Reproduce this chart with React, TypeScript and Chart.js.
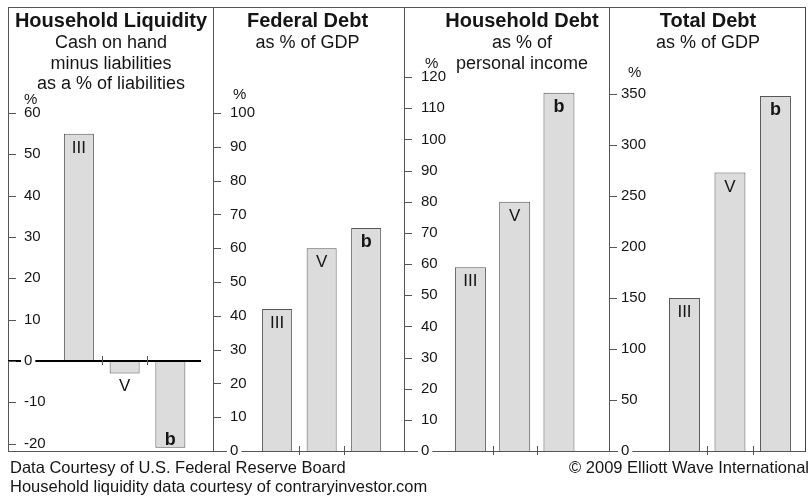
import React, { useEffect, useRef } from 'react';
import { Chart, registerables } from 'chart.js';

Chart.register(...registerables);

// ---------------- data ----------------
const waves = ['III', 'V', 'b'];
const wavePositions = [1, 2, 3];

const liquidityValues = [55, -3, -21];
const federalDebtValues = [42, 60, 66];
const householdDebtValues = [59, 80, 115];
const totalDebtValues = [150, 273, 348];

const liquidityTicks = [-20, -10, 0, 10, 20, 30, 40, 50, 60];
const federalDebtTicks = [0, 10, 20, 30, 40, 50, 60, 70, 80, 90, 100];
const householdDebtTicks = [0, 10, 20, 30, 40, 50, 60, 70, 80, 90, 100, 110, 120];
const totalDebtTicks = [0, 50, 100, 150, 200, 250, 300, 350];

const panelTitles = ['Household Liquidity', 'Federal Debt', 'Household Debt', 'Total Debt'];
const panelSubtitles = [
  ['Cash on hand', 'minus liabilities', 'as a % of liabilities'],
  ['as % of GDP'],
  ['as % of', 'personal income'],
  ['as % of GDP'],
];
const unitLabel = '%';
const sourceLines = [
  'Data Courtesy of U.S. Federal Reserve Board',
  'Household liquidity data courtesy of contraryinvestor.com',
];
const copyrightLine = '\u00A9 2009 Elliott Wave International';

const panelValues = [liquidityValues, federalDebtValues, householdDebtValues, totalDebtValues];
const panelTicks = [liquidityTicks, federalDebtTicks, householdDebtTicks, totalDebtTicks];

// ---------------- layout / style ----------------
const FONT = '"Liberation Sans", Arial, Helvetica, sans-serif';
const PAD_V = 40;
const FRAME_TOP = 7;
const PLOT_H = 444;
const LINE = '#555555';
const TEXT = '#151515';

const panelLayouts = [
  { left: 8, width: 205, padRight: 12, yMin: -21.77, yMax: 85.65, xMin: -0.55, xMax: 3.67, barPct: 0.656, tickPad: 16, unitX: 16, unitDy: 9, zeroLine: true, titleX: 111 },
  { left: 213, width: 191, padRight: 0, yMin: 0, yMax: 131.4, xMin: -0.44, xMax: 3.85, barPct: 0.674, tickPad: 17, unitX: 20, unitDy: 14, zeroLine: false, titleX: 307.5 },
  { left: 404, width: 205, padRight: 0, yMin: 0, yMax: 142.5, xMin: -0.5, xMax: 4.13, barPct: 0.7, tickPad: 17, unitX: 21, unitDy: 9.5, zeroLine: false, titleX: 522 },
  { left: 609, width: 196, padRight: 0, yMin: 0, yMax: 435.3, xMin: -0.66, xMax: 3.65, barPct: 0.68, tickPad: 12, unitX: 19, unitDy: 17, zeroLine: false, titleX: 708 },
];

const decorPlugin = {
  id: 'waveDecor',
  afterDatasetsDraw(chart: any, _args: any, opts: any) {
    const { ctx, chartArea } = chart;
    const x = chart.scales.x;
    const y = chart.scales.y;
    const values: number[] = opts.values;
    ctx.save();
    const y0 = y.getPixelForValue(0);

    if (opts.zeroLine) {
      ctx.strokeStyle = '#000';
      ctx.lineWidth = 2;
      ctx.beginPath();
      ctx.moveTo(chartArea.left, y0);
      ctx.lineTo(chartArea.right, y0);
      ctx.stroke();
    }

    ctx.strokeStyle = LINE;
    ctx.lineWidth = 1;
    y.ticks.forEach((t: any) => {
      const py = Math.round(y.getPixelForValue(t.value)) + 0.5;
      ctx.beginPath();
      ctx.moveTo(chartArea.left, py);
      ctx.lineTo(chartArea.left + 8, py);
      ctx.stroke();
    });

    for (let i = 0; i < wavePositions.length - 1; i++) {
      const px = Math.round(x.getPixelForValue((wavePositions[i] + wavePositions[i + 1]) / 2)) + 0.5;
      ctx.beginPath();
      ctx.moveTo(px, Math.round(y0) - 5);
      ctx.lineTo(px, Math.round(y0) + 4);
      ctx.stroke();
    }

    const meta = chart.getDatasetMeta(0);
    meta.data.forEach((bar: any, i: number) => {
      const label = waves[i];
      const v = values[i];
      const bold = label === 'b';
      ctx.font = (bold ? 'bold 18px ' : '17px ') + FONT;
      ctx.fillStyle = TEXT;
      ctx.textAlign = 'center';
      ctx.textBaseline = 'alphabetic';
      const p = bar.getProps(['x', 'y', 'base'], true);
      let ty: number;
      if (v >= 0) ty = p.y + 19;
      else if (Math.abs(p.y - p.base) > 25) ty = p.y - 3;
      else ty = p.y + 18;
      ctx.fillText(label, p.x, ty);
    });

    const topTick = y.ticks[y.ticks.length - 1].value;
    ctx.font = '15px ' + FONT;
    ctx.textAlign = 'left';
    ctx.fillStyle = TEXT;
    ctx.fillText(unitLabel, chartArea.left + opts.unitX, y.getPixelForValue(topTick) - opts.unitDy);
    ctx.restore();
  },
};

function Panel({ index }: { index: number }) {
  const ref = useRef<HTMLCanvasElement | null>(null);
  const L = panelLayouts[index];
  const H = PLOT_H + 2 * PAD_V;

  useEffect(() => {
    const values = panelValues[index];
    const ticks = panelTicks[index];
    const chart = new Chart(ref.current as HTMLCanvasElement, {
      type: 'bar',
      data: {
        datasets: [
          {
            data: values.map((v, i) => ({ x: wavePositions[i], y: v })) as any,
            backgroundColor: '#dcdcdc',
            borderColor: LINE,
            borderWidth: 1,
            barPercentage: L.barPct,
            categoryPercentage: 1,
          },
        ],
      },
      options: {
        responsive: false,
        animation: false,
        layout: { padding: { left: 0, right: L.padRight, top: PAD_V, bottom: PAD_V } },
        plugins: {
          legend: { display: false },
          tooltip: { enabled: false },
          waveDecor: { values, zeroLine: L.zeroLine, unitX: L.unitX, unitDy: L.unitDy },
        } as any,
        scales: {
          x: {
            type: 'linear',
            display: false,
            offset: false,
            min: L.xMin,
            max: L.xMax,
            afterBuildTicks: (s: any) => {
              s.ticks = wavePositions.map((v) => ({ value: v }));
            },
          },
          y: {
            type: 'linear',
            position: 'left',
            min: L.yMin,
            max: L.yMax,
            grid: { display: false },
            border: { display: true, color: LINE, width: 1 },
            afterBuildTicks: (s: any) => {
              s.ticks = ticks.map((v) => ({ value: v }));
            },
            afterFit: (s: any) => {
              s.width = 0;
              s.paddingLeft = 0;
              s.paddingRight = 0;
            },
            ticks: {
              mirror: true,
              padding: L.tickPad,
              z: 1,
              showLabelBackdrop: true,
              backdropColor: '#ffffff',
              backdropPadding: { left: 3, right: 3, top: -3, bottom: -3 },
              color: TEXT,
              font: { family: FONT, size: 15 },
              callback: (v: any) => String(v),
            },
          },
        },
      } as any,
      plugins: [decorPlugin],
    });
    return () => chart.destroy();
  }, [index]);

  return (
    <canvas
      ref={ref}
      width={L.width}
      height={H}
      style={{ position: 'absolute', left: L.left, top: FRAME_TOP - PAD_V, width: L.width, height: H }}
    />
  );
}

export default function App() {
  return (
    <div
      style={{
        position: 'fixed',
        left: 0,
        top: 0,
        width: 812,
        height: 497,
        background: '#fff',
        overflow: 'hidden',
        fontFamily: FONT,
        color: TEXT,
      }}
    >
      <div
        style={{
          position: 'absolute',
          left: 8,
          top: FRAME_TOP,
          width: 798,
          height: 445,
          boxSizing: 'border-box',
          borderTop: '1px solid ' + LINE,
          borderBottom: '1px solid ' + LINE,
          borderRight: '1px solid #444',
        }}
      />
      {panelLayouts.map((_, i) => (
        <Panel key={i} index={i} />
      ))}
      {panelLayouts.map((L, i) => (
        <React.Fragment key={'t' + i}>
          <div
            style={{
              position: 'absolute',
              left: L.titleX - 150,
              width: 300,
              top: 9,
              textAlign: 'center',
              fontWeight: 'bold',
              fontSize: 20,
              lineHeight: '22px',
              whiteSpace: 'nowrap',
            }}
          >
            {panelTitles[i]}
          </div>
          <div
            style={{
              position: 'absolute',
              left: L.titleX - 150,
              width: 300,
              top: 32,
              textAlign: 'center',
              fontSize: 18,
              lineHeight: '20.5px',
              whiteSpace: 'nowrap',
            }}
          >
            {panelSubtitles[i].map((s, j) => (
              <div key={j}>{s}</div>
            ))}
          </div>
        </React.Fragment>
      ))}
      <div
        style={{
          position: 'absolute',
          left: 10,
          top: 458,
          fontSize: 16.5,
          lineHeight: '19px',
          whiteSpace: 'nowrap',
        }}
      >
        {sourceLines.map((s, j) => (
          <div key={j}>{s}</div>
        ))}
      </div>
      <div
        style={{
          position: 'absolute',
          left: 459,
          width: 350,
          top: 458,
          textAlign: 'right',
          fontSize: 16.5,
          lineHeight: '19px',
          whiteSpace: 'nowrap',
        }}
      >
        {copyrightLine}
      </div>
    </div>
  );
}
